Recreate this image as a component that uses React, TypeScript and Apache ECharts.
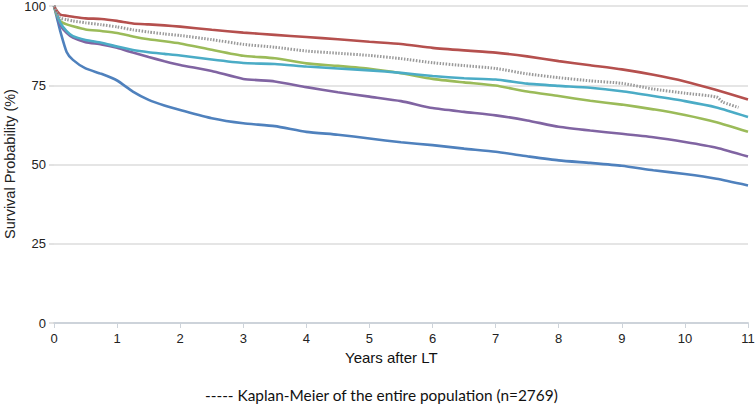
import React, { useEffect, useRef } from "react";
import * as echarts from "echarts";

const TIMES = [0, 0.05, 0.1, 0.2, 0.3, 0.5, 0.75, 1, 1.25, 1.5, 1.75, 2, 2.5, 3, 3.5, 4, 4.5, 5, 5.5, 6, 6.5, 7, 7.5, 8, 8.5, 9, 9.5, 10, 10.5, 11];
const GRAY_TIMES = [0, 0.05, 0.1, 0.2, 0.3, 0.5, 0.75, 1, 1.25, 1.5, 1.75, 2, 2.5, 3, 3.5, 4, 4.5, 5, 5.5, 6, 6.5, 7, 7.5, 8, 8.5, 9, 9.5, 10, 10.5, 10.6, 10.85];

const RED = [100, 98.3, 97.3, 96.9, 96.6, 96.1, 95.9, 95.3, 94.5, 94.2, 93.9, 93.5, 92.5, 91.6, 90.9, 90.2, 89.5, 88.7, 88.0, 86.8, 86.0, 85.3, 84.1, 82.6, 81.3, 80.0, 78.3, 76.2, 73.5, 70.5];
const GRAY_KM = [100, 97.8, 96.2, 95.7, 95.3, 94.7, 94.1, 93.4, 92.5, 91.8, 91.2, 90.7, 89.4, 87.9, 87.0, 85.8, 85.1, 84.4, 83.4, 82.1, 81.2, 80.3, 78.6, 77.4, 76.4, 75.6, 73.8, 72.5, 71.3, 69.7, 68.0];
const GREEN = [100, 97, 95.2, 94.2, 93.6, 92.6, 92.1, 91.5, 90.4, 89.5, 88.9, 88.2, 86.2, 84.3, 83.5, 81.9, 81.1, 80.2, 78.8, 77.0, 75.9, 74.9, 73.0, 71.6, 70.1, 68.9, 67.4, 65.6, 63.3, 60.3];
const CYAN = [100, 97.5, 94.7, 92.1, 90.5, 89.3, 88.4, 87.2, 86.1, 85.4, 84.9, 84.4, 83.1, 82.0, 81.7, 80.9, 80.3, 79.7, 78.9, 77.9, 77.2, 76.8, 75.5, 74.8, 74.2, 73.1, 71.6, 70.0, 68.0, 65.0];
const PURPLE = [100, 97, 94, 91.5, 90.0, 88.6, 87.9, 86.8, 85.3, 83.9, 82.6, 81.4, 79.5, 77.0, 76.2, 74.4, 72.8, 71.4, 70.0, 67.8, 66.6, 65.5, 63.9, 61.9, 60.7, 59.7, 58.6, 57.1, 55.3, 52.5];
const BLUE = [100, 96, 92, 85.5, 83, 80.3, 78.6, 76.5, 73.0, 70.4, 68.6, 67.2, 64.6, 63.0, 62.1, 60.3, 59.4, 58.2, 57.0, 56.1, 55.0, 54.0, 52.6, 51.3, 50.5, 49.6, 48.2, 47.0, 45.5, 43.4];

const X_TICKS = [0, 1, 2, 3, 4, 5, 6, 7, 8, 9, 10, 11];
const Y_TICKS = [0, 25, 50, 75, 100];

const X_TITLE = "Years after LT";
const Y_TITLE = "Survival Probability (%)";
const NOTE = "----- Kaplan-Meier of the entire population (n=2769)";

const SANS = "'Liberation Sans', Arial, sans-serif";

const pairs = (xs: number[], ys: number[]) => ys.map((y, i) => [xs[i], y]);

export default function App() {
  const ref = useRef<HTMLDivElement>(null);
  useEffect(() => {
    if (!ref.current) return;
    const chart = echarts.init(ref.current, null, { renderer: "svg" });
    const lineSeries = (name: string, xs: number[], ys: number[], color: string, z: number, dashed = false) => ({
      type: "line",
      name,
      data: pairs(xs, ys),
      showSymbol: false,
      smooth: 0.2,
      z,
      lineStyle: dashed
        ? { color, width: 3, type: [1.5, 1.5] }
        : { color, width: 2.6 },
    });
    chart.setOption({
      animation: false,
      backgroundColor: "#ffffff",
      grid: { left: 54, right: 8, top: 6, bottom: 82, containLabel: false, outerBoundsMode: "none" },
      xAxis: {
        type: "value",
        min: 0,
        max: 11,
        interval: 1,
        axisLine: { show: true, lineStyle: { color: "#cdd3da", width: 2 } },
        axisTick: { show: true, length: 5, lineStyle: { color: "#cdd3da", width: 1 } },
        axisLabel: {
          margin: 9,
          fontFamily: SANS,
          fontSize: 13,
          color: "#222",
          formatter: (v: number) => (X_TICKS.includes(v) ? String(v) : ""),
        },
        splitLine: { show: false },
      },
      yAxis: {
        type: "value",
        min: 0,
        max: 100,
        interval: 25,
        axisLine: { show: false },
        axisTick: { show: true, length: 5, lineStyle: { color: "#d9d9d9", width: 1.5 } },
        axisLabel: {
          margin: 8,
          fontFamily: SANS,
          fontSize: 13,
          lineHeight: 12,
          color: "#222",
          formatter: (v: number) => (Y_TICKS.includes(v) ? String(v) : ""),
        },
        splitLine: { show: true, lineStyle: { color: "#dcdcdc", width: 1.5 } },
      },
      series: [
        lineSeries("Blue", TIMES, BLUE, "#4F81BD", 2),
        lineSeries("Purple", TIMES, PURPLE, "#8064A2", 3),
        lineSeries("Green", TIMES, GREEN, "#9BBB59", 4),
        lineSeries("Cyan", TIMES, CYAN, "#4BACC6", 5),
        lineSeries("Red", TIMES, RED, "#B5504E", 6),
        lineSeries("Entire population", GRAY_TIMES, GRAY_KM, "#9a9a9a", 7, true),
      ],
      graphic: [
        {
          type: "text",
          x: 10,
          y: 164,
          rotation: Math.PI / 2,
          style: {
            text: Y_TITLE,
            fontFamily: SANS,
            fontSize: 14.5,
            fill: "#222",
            align: "center",
            verticalAlign: "middle",
          },
        },
        {
          type: "text",
          left: 345,
          top: 350,
          style: {
            text: X_TITLE,
            fontFamily: SANS,
            fontSize: 15,
            fill: "#111",
          },
        },
        {
          type: "text",
          left: 205,
          top: 387,
          style: {
            text: NOTE,
            fontFamily: "Lato, 'Open Sans', sans-serif",
            fontSize: 15.4,
            fill: "#111",
          },
        },
      ],
    });
    return () => chart.dispose();
  }, []);
  return (
    <div
      ref={ref}
      style={{ position: "fixed", left: 0, top: 0, width: 756, height: 405, background: "#fff" }}
    />
  );
}
